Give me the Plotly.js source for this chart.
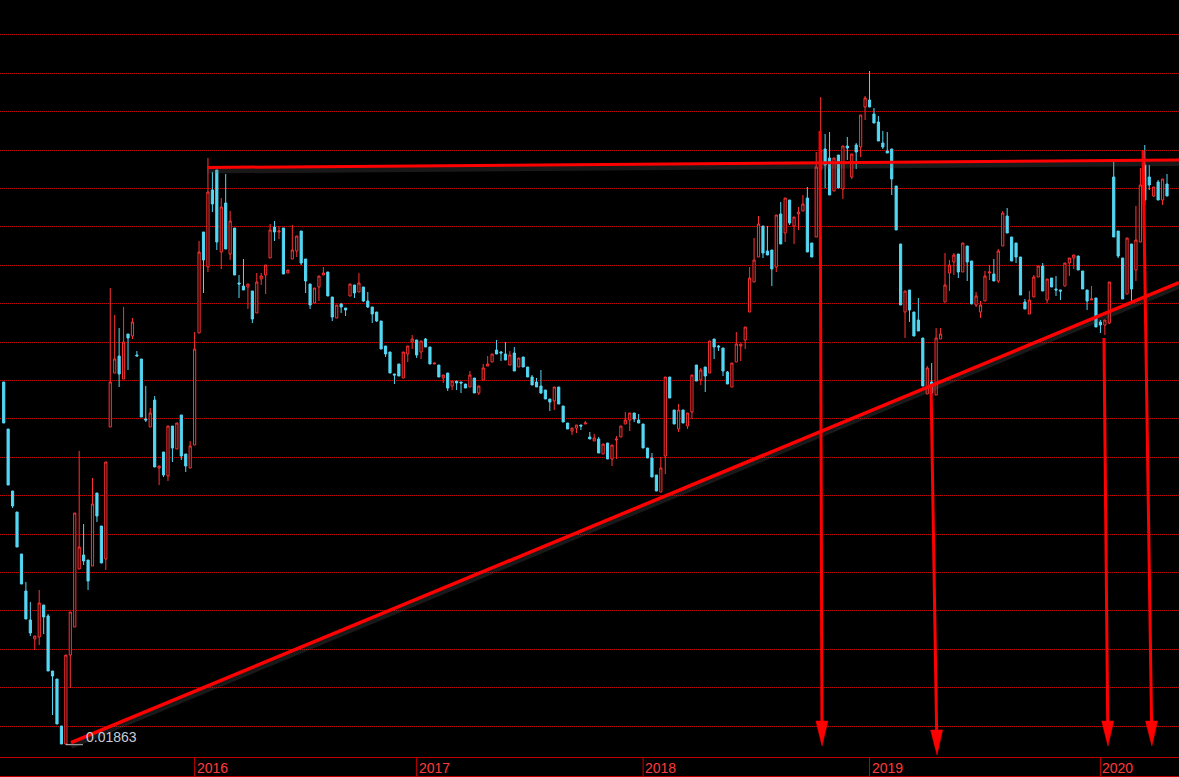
<!DOCTYPE html>
<html>
<head>
<meta charset="utf-8">
<script src="https://cdn.plot.ly/plotly-3.0.1.min.js"></script>
<style>
  html, body { margin: 0; padding: 0; background: #000; }
  #chart { width: 1179px; height: 777px; }
</style>
</head>
<body>
<div id="chart"></div>
<script>
// Weekly OHLC values (oldest first)
const open = [
  .0549,.0502,.0440,.0419,.0377,.0340,.0311,.0292,.0294,.0326,
  .0315,.0260,.0252,.0205,.0187,.0276,.0304,.0362,.0376,.0371,
  .0365,.0438,.0405,.0372,.0504,.0558,.0575,.0552,.0597,.0595,
  .0576,.0572,.0512,.0504,.0531,.0463,.0479,.0455,.0505,.0482,
  .0516,.0477,.0463,.0486,.0598,.0699,.0664,.0741,.0761,.0679,
  .0728,.0677,.0703,.0648,.0645,.0644,.0640,.0618,.0652,.0656,
  .0673,.0704,.0699,.0703,.0658,.0672,.0680,.0700,.0672,.0647,
  .0628,.0644,.0656,.0659,.0634,.0613,.0627,.0623,.0635,.0646,
  .0639,.0644,.0630,.0624,.0619,.0610,.0585,.0579,.0557,.0567,
  .0553,.0577,.0589,.0591,.0579,.0592,.0584,.0567,.0566,.0553,
  .0558,.0545,.0550,.0549,.0547,.0544,.0553,.0538,.0551,.0565,
  .0569,.0581,.0579,.0577,.0566,.0578,.0564,.0574,.0564,.0554,
  .0549,.0545,.0541,.0532,.0530,.0544,.0525,.0508,.0500,.0503,
  .0506,.0507,.0494,.0490,.0492,.0477,.0488,.0472,.0491,.0494,
  .0507,.0511,.0518,.0511,.0507,.0483,.0473,.0456,.0439,.0475,
  .0554,.0521,.0502,.0521,.0505,.0519,.0566,.0551,.0564,.0558,
  .0592,.0585,.0583,.0559,.0544,.0569,.0585,.0591,.0619,.0649,
  .0674,.0705,.0680,.0681,.0664,.0717,.0698,.0731,.0705,.0717,
  .0720,.0733,.0688,.0694,.0761,.0782,.0773,.0740,.0776,.0742,
  .0785,.0754,.0786,.0784,.0824,.0831,.0817,.0809,.0788,.0780,
  .0782,.0745,.0687,.0619,.0641,.0619,.0611,.0593,.0537,.0549,
  .0536,.0592,.0629,.0658,.0669,.0677,.0659,.0685,.0670,.0626,
  .0619,.0630,.0658,.0657,.0650,.0685,.0715,.0694,.0688,.0674,
  .0629,.0617,.0634,.0654,.0665,.0631,.0653,.0642,.0641,.0645,
  .0668,.0673,.0675,.0660,.0641,.0631,.0633,.0609,.0606,.0608,
  .0754,.0700,.0673,.0637,.0687,.0661,.0689,.0766,.0754,.0735,
  .0749,.0731,.0747
];
const high = [
  .0549,.0502,.0440,.0419,.0377,.0349,.0329,.0295,.0341,.0326,
  .0317,.0260,.0252,.0205,.0276,.0319,.0418,.0480,.0407,.0371,
  .0453,.0438,.0405,.0469,.0643,.0616,.0603,.0624,.0597,.0613,
  .0580,.0572,.0545,.0523,.0535,.0465,.0479,.0505,.0505,.0508,
  .0516,.0477,.0490,.0599,.0690,.0699,.0773,.0759,.0761,.0733,
  .0757,.0720,.0703,.0656,.0672,.0647,.0640,.0658,.0658,.0666,
  .0707,.0710,.0705,.0703,.0661,.0706,.0695,.0700,.0672,.0647,
  .0643,.0655,.0664,.0659,.0634,.0626,.0628,.0623,.0647,.0646,
  .0658,.0644,.0639,.0624,.0619,.0610,.0585,.0579,.0557,.0567,
  .0579,.0585,.0596,.0591,.0590,.0593,.0584,.0568,.0566,.0556,
  .0558,.0550,.0550,.0549,.0547,.0560,.0553,.0545,.0567,.0575,
  .0577,.0591,.0580,.0589,.0580,.0584,.0573,.0574,.0564,.0556,
  .0553,.0561,.0541,.0532,.0544,.0544,.0525,.0508,.0503,.0506,
  .0506,.0510,.0499,.0497,.0494,.0487,.0488,.0486,.0495,.0505,
  .0519,.0518,.0518,.0517,.0507,.0483,.0478,.0456,.0474,.0554,
  .0554,.0521,.0527,.0521,.0518,.0556,.0566,.0563,.0564,.0590,
  .0592,.0586,.0583,.0560,.0568,.0599,.0587,.0604,.0664,.0693,
  .0715,.0705,.0705,.0681,.0716,.0729,.0733,.0731,.0714,.0724,
  .0736,.0744,.0688,.0779,.0834,.0797,.0799,.0773,.0776,.0785,
  .0794,.0777,.0788,.0816,.0835,.0860,.0823,.0815,.0800,.0799,
  .0782,.0745,.0687,.0640,.0641,.0619,.0633,.0593,.0565,.0568,
  .0603,.0603,.0678,.0671,.0678,.0677,.0688,.0685,.0670,.0639,
  .0630,.0660,.0666,.0672,.0682,.0720,.0723,.0694,.0688,.0674,
  .0632,.0640,.0656,.0665,.0668,.0652,.0653,.0655,.0641,.0668,
  .0673,.0676,.0675,.0660,.0641,.0645,.0633,.0611,.0611,.0649,
  .0769,.0700,.0673,.0693,.0687,.0725,.0763,.0786,.0766,.0744,
  .0751,.0752,.0757
];
const low = [
  .0508,.0446,.0423,.0384,.0347,.0312,.0295,.0281,.0286,.0297,
  .0260,.0216,.0207,.0187,.01863,.0243,.0304,.0362,.0366,.0341,
  .0365,.0409,.0368,.0361,.0504,.0558,.0544,.0552,.0561,.0592,
  .0575,.0514,.0509,.0504,.0464,.0446,.0454,.0450,.0469,.0482,
  .0471,.0459,.0463,.0486,.0598,.0638,.0659,.0719,.0681,.0662,
  .0682,.0671,.0656,.0633,.0641,.0622,.0608,.0618,.0646,.0637,
  .0673,.0690,.0692,.0657,.0658,.0672,.0674,.0666,.0638,.0622,
  .0628,.0630,.0656,.0635,.0610,.0613,.0618,.0615,.0635,.0633,
  .0639,.0629,.0623,.0608,.0609,.0582,.0574,.0558,.0547,.0555,
  .0553,.0569,.0582,.0573,.0572,.0584,.0567,.0567,.0554,.0548,
  .0540,.0541,.0541,.0538,.0543,.0544,.0538,.0536,.0551,.0565,
  .0569,.0577,.0570,.0571,.0566,.0560,.0564,.0564,.0554,.0546,
  .0544,.0537,.0532,.0520,.0521,.0527,.0509,.0502,.0496,.0498,
  .0501,.0507,.0492,.0490,.0478,.0477,.0472,.0465,.0472,.0494,
  .0507,.0500,.0509,.0508,.0483,.0473,.0454,.0440,.0439,.0457,
  .0533,.0507,.0499,.0508,.0502,.0512,.0550,.0546,.0539,.0558,
  .0572,.0580,.0555,.0547,.0544,.0569,.0570,.0582,.0619,.0649,
  .0674,.0673,.0676,.0645,.0659,.0687,.0689,.0706,.0687,.0701,
  .0720,.0679,.0674,.0694,.0741,.0743,.0736,.0740,.0743,.0732,
  .0771,.0752,.0762,.0774,.0811,.0824,.0808,.0790,.0782,.0778,
  .0736,.0701,.0626,.0593,.0609,.0595,.0600,.0545,.0537,.0535,
  .0536,.0592,.0629,.0640,.0656,.0653,.0659,.0650,.0627,.0624,
  .0613,.0630,.0651,.0650,.0648,.0685,.0698,.0670,.0668,.0636,
  .0622,.0617,.0634,.0654,.0640,.0628,.0644,.0635,.0631,.0645,
  .0655,.0662,.0661,.0642,.0621,.0631,.0604,.0598,.0596,.0607,
  .0694,.0673,.0632,.0637,.0630,.0650,.0689,.0726,.0741,.0734,
  .0731,.0726,.0735
];
const close = [
  .0508,.0446,.0425,.0384,.0347,.0312,.0298,.0295,.0328,.0314,
  .0260,.0255,.0207,.0187,.0276,.0319,.0418,.0384,.0370,.0350,
  .0427,.0415,.0368,.0469,.0549,.0572,.0557,.0589,.0593,.0609,
  .0575,.0514,.0511,.0518,.0464,.0465,.0456,.0505,.0483,.0508,
  .0475,.0465,.0485,.0582,.0679,.0671,.0739,.0727,.0689,.0724,
  .0682,.0710,.0656,.0647,.0641,.0647,.0612,.0649,.0655,.0666,
  .0701,.0699,.0700,.0657,.0661,.0681,.0695,.0668,.0650,.0626,
  .0643,.0655,.0658,.0635,.0614,.0626,.0624,.0621,.0647,.0638,
  .0648,.0630,.0624,.0617,.0610,.0582,.0577,.0558,.0556,.0555,
  .0579,.0585,.0592,.0576,.0590,.0584,.0567,.0568,.0554,.0556,
  .0543,.0550,.0548,.0548,.0543,.0556,.0538,.0545,.0563,.0567,
  .0577,.0577,.0578,.0571,.0576,.0560,.0573,.0564,.0554,.0546,
  .0544,.0538,.0532,.0529,.0544,.0527,.0509,.0502,.0503,.0506,
  .0505,.0508,.0492,.0493,.0478,.0487,.0472,.0486,.0492,.0505,
  .0511,.0518,.0512,.0508,.0483,.0473,.0454,.0440,.0463,.0554,
  .0533,.0507,.0521,.0508,.0518,.0556,.0550,.0561,.0555,.0590,
  .0584,.0584,.0560,.0547,.0568,.0587,.0587,.0604,.0653,.0671,
  .0707,.0678,.0676,.0662,.0716,.0687,.0733,.0708,.0714,.0719,
  .0727,.0679,.0674,.0764,.0781,.0766,.0736,.0773,.0743,.0785,
  .0783,.0777,.0779,.0816,.0833,.0824,.0808,.0790,.0784,.0778,
  .0752,.0701,.0626,.0640,.0621,.0595,.0600,.0545,.0563,.0538,
  .0593,.0597,.0646,.0666,.0676,.0659,.0688,.0669,.0627,.0635,
  .0626,.0655,.0659,.0650,.0680,.0718,.0698,.0670,.0674,.0636,
  .0622,.0631,.0654,.0665,.0640,.0652,.0644,.0641,.0640,.0668,
  .0673,.0676,.0661,.0642,.0630,.0632,.0604,.0606,.0611,.0649,
  .0694,.0675,.0632,.0693,.0642,.0691,.0746,.0731,.0746,.0744,
  .0731,.0752,.0735
];

// Year separators: index of the first weekly bar of each year, and labels
const yearLabels = ['2016', '2017', '2018', '2019', '2020'];
const yearStart  = [43, 93, 144, 195, 247];

// Hand-drawn trend lines (bar index, price)
const resistX = [45.8, 264.7];
const resistY = [0.07635, 0.0771];
const supportX = [15.16, 264.7];
const supportY = [0.01883, 0.06483];

// Hand-drawn arrows: start and tip (bar index, price)
const arrowStartX = [183.85, 208.85, 247.8, 256.6];
const arrowStartY = [0.0800, 0.0546, 0.0593, 0.0781];
const arrowTipX   = [184.3, 210.2, 248.7, 258.6];
const arrowTipY   = [0.0185, 0.0176, 0.0185, 0.0185];

// ---------------------------------------------------------------
const W = 1179, H = 777, MB = 20;
const xRange = [-0.833, 264.7];
const yRange = [0.0174, 0.0931];
const plotH = H - MB;
const ppx = W / (xRange[1] - xRange[0]);          // px per bar
const ppy = plotH / (yRange[1] - yRange[0]);      // px per price unit

const idx = open.map((_, i) => i);
const UP = '#ff3232', DOWN = '#54d8f4', LINE = '#ff0000', AXIS = '#c00000';

const traces = [];
traces.push({
  type: 'candlestick',
  x: idx, open: open, high: high, low: low, close: close,
  increasing: { line: { color: UP, width: 1 }, fillcolor: '#000000' },
  decreasing: { line: { color: DOWN, width: 1 }, fillcolor: DOWN },
  whiskerwidth: 0,
  hoverinfo: 'skip'
});

// lowest low marker
let lowIdx = 0;
low.forEach((v, i) => { if (v < low[lowIdx]) lowIdx = i; });
const minLow = low[lowIdx];
traces.push({
  type: 'scatter', mode: 'lines',
  x: [lowIdx, lowIdx + 17 / ppx], y: [minLow, minLow],
  line: { color: '#c8c8c8', width: 1 }, hoverinfo: 'skip'
});

// soft shadow under the drawn trend lines (a few px lower)
const shade = 3 / ppy;
[[resistX, resistY], [supportX, supportY]].forEach(([xs, ys]) => {
  traces.push({ type: 'scatter', mode: 'lines', x: xs, y: ys.map(v => v - shade),
    line: { color: 'rgba(100,100,100,0.25)', width: 6 }, hoverinfo: 'skip' });
});

// trend lines
traces.push({ type: 'scatter', mode: 'lines', x: resistX, y: resistY,
  line: { color: LINE, width: 3 }, hoverinfo: 'skip' });
traces.push({ type: 'scatter', mode: 'lines', x: supportX, y: supportY,
  line: { color: LINE, width: 3.5 }, hoverinfo: 'skip' });

// arrows
const headLen = 25, headHalf = 6;
arrowTipX.forEach((tx, i) => {
  const sx = arrowStartX[i], sy = arrowStartY[i], ty = arrowTipY[i];
  const SX = sx * ppx, SY = -sy * ppy, TX = tx * ppx, TY = -ty * ppy;
  const L = Math.hypot(TX - SX, TY - SY);
  const dx = (TX - SX) / L, dy = (TY - SY) / L;
  const BX = TX - dx * headLen, BY = TY - dy * headLen;
  const px = -dy, py = dx;
  const toX = v => v / ppx, toY = v => -v / ppy;
  traces.push({ type: 'scatter', mode: 'lines',
    x: [sx, toX(BX)], y: [sy, toY(BY)],
    line: { color: LINE, width: 3 }, hoverinfo: 'skip' });
  traces.push({ type: 'scatter', mode: 'lines', fill: 'toself',
    x: [toX(BX + px * headHalf), tx, toX(BX - px * headHalf), toX(BX + px * headHalf)],
    y: [toY(BY + py * headHalf), ty, toY(BY - py * headHalf), toY(BY + py * headHalf)],
    fillcolor: LINE, line: { color: LINE, width: 0.5 }, hoverinfo: 'skip' });
});

const shapes = [];
const annotations = [];
yearStart.forEach((s, i) => {
  shapes.push({ type: 'line', xref: 'x', yref: 'paper', x0: s, x1: s,
    y0: 0, y1: -MB / plotH, line: { color: AXIS, width: 1 } });
  annotations.push({ xref: 'x', yref: 'paper', x: s, y: 0,
    xanchor: 'left', yanchor: 'top', xshift: 0, yshift: -1,
    text: yearLabels[i], showarrow: false,
    font: { family: 'Liberation Sans, Arial, sans-serif', size: 14, color: '#ff3a3a' } });
});
shapes.push({ type: 'line', xref: 'paper', yref: 'paper', x0: 0, x1: 1,
  y0: -19.5 / plotH, y1: -19.5 / plotH, line: { color: AXIS, width: 1 } });

annotations.push({ xref: 'x', yref: 'y', x: lowIdx, y: minLow,
  xanchor: 'left', yanchor: 'middle', xshift: 18, yshift: 8,
  text: minLow.toFixed(5), showarrow: false,
  font: { family: 'Liberation Sans, Arial, sans-serif', size: 14, color: '#c8ccd8' } });

const layout = {
  width: W, height: H,
  paper_bgcolor: '#000000', plot_bgcolor: '#000000',
  margin: { l: 0, r: 0, t: 0, b: MB, pad: 0 },
  showlegend: false, hovermode: false,
  xaxis: { range: xRange, showgrid: false, zeroline: false, showticklabels: false,
    ticks: '', showline: true, linecolor: AXIS, linewidth: 1,
    rangeslider: { visible: false }, fixedrange: true },
  yaxis: { range: yRange, tick0: 0.0205, dtick: 0.003839, showgrid: true,
    gridcolor: '#c80000', griddash: '1px,1px', gridwidth: 1, zeroline: false,
    showticklabels: false, ticks: '', showline: false, fixedrange: true },
  shapes: shapes,
  annotations: annotations
};

Plotly.newPlot('chart', traces, layout, { staticPlot: true, displayModeBar: false });
</script>
</body>
</html>
